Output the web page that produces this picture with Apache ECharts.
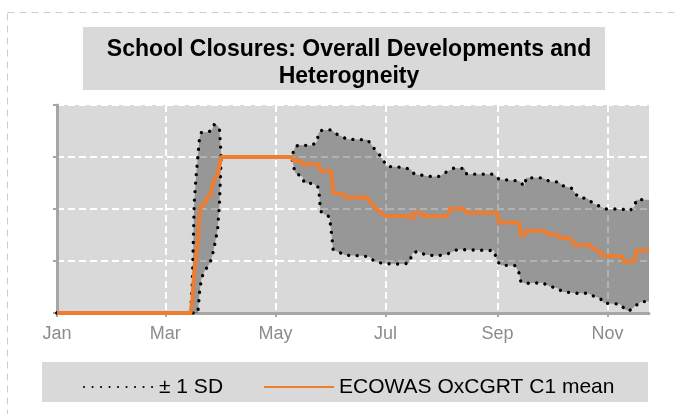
<!DOCTYPE html>
<html>
<head>
<meta charset="utf-8">
<script src="https://cdn.jsdelivr.net/npm/echarts@6/dist/echarts.min.js"></script>
<style>
  html, body { margin: 0; background: #fff; }
  #chart { width: 677px; height: 414px; }
</style>
</head>
<body>
<div id="chart"></div>
<script>
// x axis ticks
const monthTicks = ['2020-01-01', '2020-03-01', '2020-05-01', '2020-07-01', '2020-09-01', '2020-11-01'];
const monthLabels = ['Jan', 'Mar', 'May', 'Jul', 'Sep', 'Nov'];

// ECOWAS mean of C1 (school closing)
const meanC1 = [
  ['2020-01-01', 0], ['2020-03-15', 0], ['2020-03-16', 0.25], ['2020-03-17', 0.75],
  ['2020-03-18', 1.05], ['2020-03-19', 1.35], ['2020-03-20', 1.95], ['2020-03-21', 2.08],
  ['2020-03-23', 2.09], ['2020-03-24', 2.22], ['2020-03-26', 2.24], ['2020-03-27', 2.45],
  ['2020-03-28', 2.55], ['2020-03-29', 2.58], ['2020-03-30', 2.65], ['2020-03-31', 2.85],
  ['2020-04-01', 3], ['2020-05-10', 3], ['2020-05-11', 2.93], ['2020-05-15', 2.93],
  ['2020-05-16', 2.86], ['2020-05-25', 2.86], ['2020-05-26', 2.73], ['2020-06-01', 2.73],
  ['2020-06-02', 2.31], ['2020-06-03', 2.28], ['2020-06-08', 2.28], ['2020-06-09', 2.22],
  ['2020-06-21', 2.22], ['2020-06-22', 2.15], ['2020-06-25', 2.05], ['2020-06-26', 1.99],
  ['2020-07-01', 1.87], ['2020-07-15', 1.86], ['2020-07-16', 1.8], ['2020-07-17', 1.93],
  ['2020-07-21', 1.93], ['2020-07-22', 1.86], ['2020-08-04', 1.86], ['2020-08-06', 2.01],
  ['2020-08-13', 2.01], ['2020-08-15', 1.93], ['2020-09-01', 1.93], ['2020-09-02', 1.74],
  ['2020-09-13', 1.74], ['2020-09-14', 1.5], ['2020-09-16', 1.5], ['2020-09-17', 1.58],
  ['2020-09-27', 1.58], ['2020-09-29', 1.51], ['2020-10-04', 1.51], ['2020-10-06', 1.44],
  ['2020-10-11', 1.44], ['2020-10-14', 1.31], ['2020-10-22', 1.31], ['2020-10-24', 1.23],
  ['2020-10-27', 1.21], ['2020-10-29', 1.1], ['2020-11-09', 1.09], ['2020-11-10', 0.99],
  ['2020-11-16', 0.99], ['2020-11-17', 1.2], ['2020-11-24', 1.2]
];

// mean + 1 SD
const upperSD = [
  ['2020-01-01', 0], ['2020-03-15', 0], ['2020-03-16', 0.6], ['2020-03-17', 2.1],
  ['2020-03-18', 2.6], ['2020-03-19', 3.0], ['2020-03-20', 3.38], ['2020-03-21', 3.47],
  ['2020-03-25', 3.48], ['2020-03-26', 3.5], ['2020-03-27', 3.53], ['2020-03-28', 3.62],
  ['2020-03-29', 3.63], ['2020-03-30', 3.6], ['2020-03-31', 3.55], ['2020-04-01', 3],
  ['2020-05-10', 3], ['2020-05-11', 3.1], ['2020-05-12', 3.2], ['2020-05-14', 3.23],
  ['2020-05-21', 3.22], ['2020-05-24', 3.29], ['2020-05-25', 3.47], ['2020-05-27', 3.52],
  ['2020-06-01', 3.52], ['2020-06-04', 3.44], ['2020-06-07', 3.39], ['2020-06-10', 3.34],
  ['2020-06-21', 3.33], ['2020-06-23', 3.25], ['2020-06-25', 3.15], ['2020-06-28', 3.03],
  ['2020-06-30', 2.92], ['2020-07-02', 2.82], ['2020-07-11', 2.8], ['2020-07-15', 2.76],
  ['2020-07-17', 2.67], ['2020-07-27', 2.62], ['2020-07-31', 2.63], ['2020-08-03', 2.7],
  ['2020-08-06', 2.75], ['2020-08-08', 2.79], ['2020-08-14', 2.78], ['2020-08-15', 2.67],
  ['2020-08-30', 2.67], ['2020-09-02', 2.57], ['2020-09-13', 2.54], ['2020-09-16', 2.44],
  ['2020-09-17', 2.6], ['2020-09-26', 2.6], ['2020-09-30', 2.53], ['2020-10-05', 2.52],
  ['2020-10-07', 2.45], ['2020-10-12', 2.4], ['2020-10-16', 2.22], ['2020-10-21', 2.2],
  ['2020-10-24', 2.11], ['2020-10-28', 2.05], ['2020-10-31', 2.0], ['2020-11-09', 2.0],
  ['2020-11-13', 1.96], ['2020-11-16', 2.05], ['2020-11-17', 2.18], ['2020-11-24', 2.18]
];

// mean - 1 SD
const lowerSD = [
  ['2020-01-01', 0], ['2020-03-19', 0], ['2020-03-20', 0.4], ['2020-03-21', 0.66],
  ['2020-03-22', 0.75], ['2020-03-23', 0.82], ['2020-03-25', 0.92], ['2020-03-26', 0.98],
  ['2020-03-27', 1.1], ['2020-03-28', 1.25], ['2020-03-29', 1.42], ['2020-03-30', 1.62],
  ['2020-03-31', 2.1], ['2020-04-01', 3], ['2020-05-10', 3], ['2020-05-11', 2.83],
  ['2020-05-12', 2.69], ['2020-05-16', 2.62], ['2020-05-17', 2.5], ['2020-05-22', 2.49],
  ['2020-05-25', 2.41], ['2020-05-26', 1.96], ['2020-05-28', 1.9], ['2020-05-31', 1.85],
  ['2020-06-01', 1.55], ['2020-06-02', 1.22], ['2020-06-05', 1.17], ['2020-06-09', 1.11],
  ['2020-06-18', 1.1], ['2020-06-22', 1.08], ['2020-06-25', 0.99], ['2020-06-30', 0.95],
  ['2020-07-10', 0.94], ['2020-07-14', 0.96], ['2020-07-16', 1.15], ['2020-07-19', 1.19],
  ['2020-07-23', 1.12], ['2020-07-30', 1.1], ['2020-08-04', 1.13], ['2020-08-07', 1.18],
  ['2020-08-10', 1.22], ['2020-08-30', 1.2], ['2020-09-01', 0.99], ['2020-09-03', 0.92],
  ['2020-09-11', 0.91], ['2020-09-13', 0.77], ['2020-09-14', 0.6], ['2020-09-16', 0.57],
  ['2020-09-26', 0.58], ['2020-09-30', 0.51], ['2020-10-04', 0.48], ['2020-10-07', 0.41],
  ['2020-10-15', 0.38], ['2020-10-21', 0.38], ['2020-10-24', 0.33], ['2020-10-28', 0.28],
  ['2020-10-30', 0.19], ['2020-11-08', 0.17], ['2020-11-11', 0.06], ['2020-11-13', 0.04],
  ['2020-11-17', 0.15], ['2020-11-20', 0.22], ['2020-11-24', 0.22]
];

const toTime = s => +echarts.time.parse(s);
const toPoints = arr => arr.map(p => [toTime(p[0]), p[1]]);
const tickTimes = monthTicks.map(toTime);

const FONT = "'Liberation Sans', Arial, sans-serif";
const dotted = { color: '#000', width: 3.3, type: [0.1, 8.4], cap: 'round' };

const chart = echarts.init(document.getElementById('chart'));

chart.setOption({
  animation: false,
  backgroundColor: '#fff',
  title: {
    text: 'School Closures: Overall Developments and\nHeterogneity',
    left: 344,
    top: 31,
    textAlign: 'center',
    textStyle: { fontFamily: FONT, fontSize: 23, fontWeight: 'bold', color: '#000', lineHeight: 27 }
  },
  graphic: [
    { type: 'rect', z: -10, silent: true,
      shape: { x: 7.5, y: 12.5, width: 720, height: 460 },
      style: { fill: 'none', stroke: '#cccccc', lineWidth: 1, lineDash: [7, 5] } },
    { type: 'rect', z: -10, silent: true,
      shape: { x: 83, y: 27, width: 522, height: 63 },
      style: { fill: '#d9d9d9' } },
    { type: 'rect', z: -10, silent: true,
      shape: { x: 42, y: 362, width: 606, height: 40 },
      style: { fill: '#d9d9d9' } }
  ],
  legend: {
    data: ['± 1 SD', 'ECOWAS OxCGRT C1 mean'],
    left: 78,
    top: 370,
    itemWidth: 70,
    itemHeight: 14,
    itemGap: 40,
    itemStyle: { opacity: 0 },
    textStyle: { fontFamily: FONT, fontSize: 21, color: '#000', lineHeight: 24 }
  },
  grid: {
    left: 57, top: 105, width: 592, height: 208,
    show: true, backgroundColor: '#d9d9d9', borderWidth: 0
  },
  xAxis: {
    type: 'value',
    min: toTime('2020-01-01'),
    max: toTime('2020-11-24'),
    axisLine: { lineStyle: { color: '#a6a6a6', width: 3 } },
    axisTick: { customValues: tickTimes, length: 4, lineStyle: { color: '#a6a6a6', width: 2 } },
    axisLabel: {
      customValues: tickTimes,
      margin: 12,
      color: '#8c8c8c',
      fontFamily: FONT,
      fontSize: 18,
      formatter: v => monthLabels[tickTimes.indexOf(+v)] || ''
    },
    splitLine: { show: true, lineStyle: { color: '#fff', width: 2, type: [7, 4] } }
  },
  yAxis: {
    type: 'value',
    min: 0,
    max: 4,
    interval: 1,
    axisLine: { show: true, lineStyle: { color: '#a6a6a6', width: 3 } },
    axisTick: { show: true, length: 4, lineStyle: { color: '#a6a6a6', width: 2 } },
    axisLabel: { show: false },
    splitLine: { show: true, lineStyle: { color: '#fff', width: 2, type: [7, 4] } }
  },
  series: [
    {
      name: 'band',
      type: 'custom',
      silent: true,
      data: [[toTime('2020-06-01'), 2]],
      renderItem: (params, api) => {
        const pts = toPoints(upperSD).map(p => api.coord(p))
          .concat(toPoints(lowerSD).reverse().map(p => api.coord(p)));
        return { type: 'polygon', shape: { points: pts }, style: { fill: 'rgba(0,0,0,0.3)' } };
      }
    },
    { name: '± 1 SD', type: 'line', data: toPoints(upperSD), symbol: 'none', lineStyle: dotted, z: 3 },
    { name: '± 1 SD', type: 'line', data: toPoints(lowerSD), symbol: 'none', lineStyle: dotted, z: 3 },
    {
      name: 'ECOWAS OxCGRT C1 mean', type: 'line', data: toPoints(meanC1), symbol: 'none',
      itemStyle: { color: '#ed7d31' },
      lineStyle: { color: '#ed7d31', width: 4 }, z: 4
    }
  ]
});
</script>
</body>
</html>
